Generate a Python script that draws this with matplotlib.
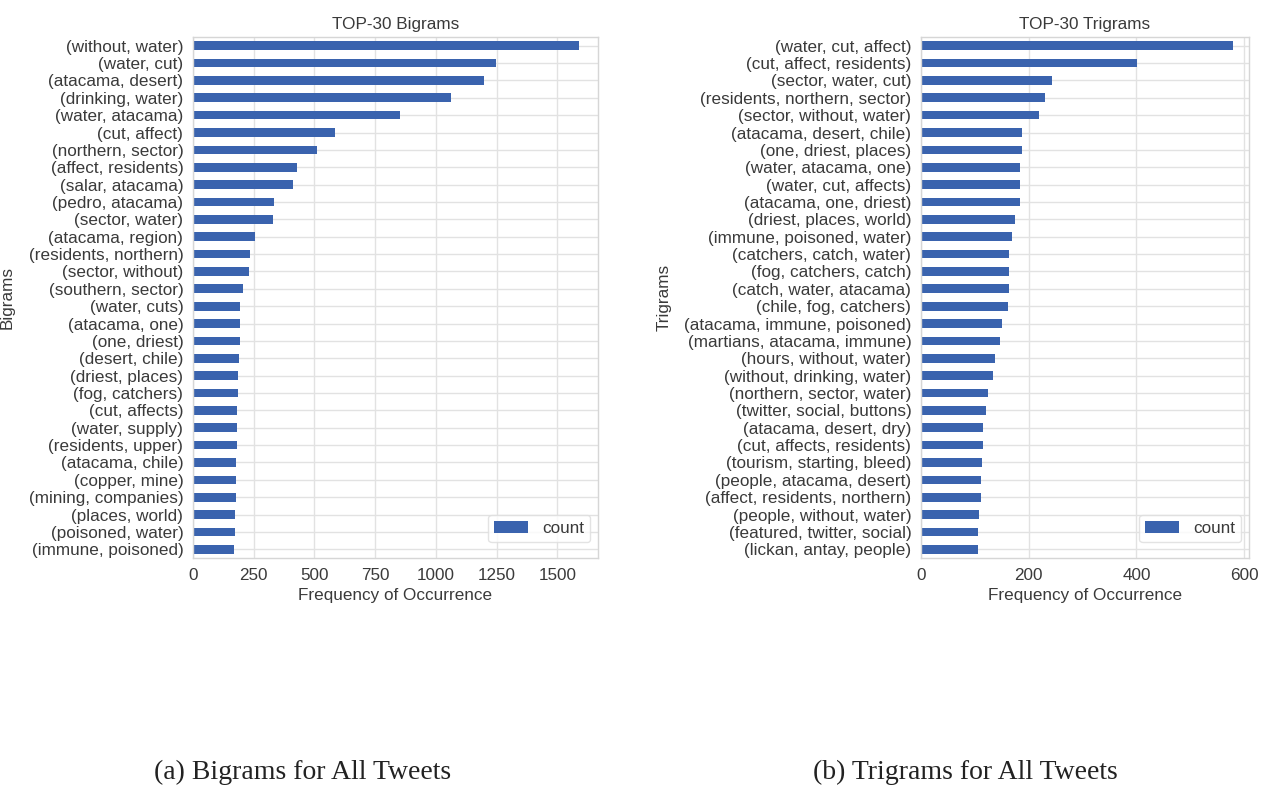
import matplotlib.pyplot as plt

# top-30 n-gram counts, listed from most to least frequent
bigram_labels = [
    "(without, water)", "(water, cut)", "(atacama, desert)", "(drinking, water)",
    "(water, atacama)", "(cut, affect)", "(northern, sector)", "(affect, residents)",
    "(salar, atacama)", "(pedro, atacama)", "(sector, water)", "(atacama, region)",
    "(residents, northern)", "(sector, without)", "(southern, sector)", "(water, cuts)",
    "(atacama, one)", "(one, driest)", "(desert, chile)", "(driest, places)",
    "(fog, catchers)", "(cut, affects)", "(water, supply)", "(residents, upper)",
    "(atacama, chile)", "(copper, mine)", "(mining, companies)", "(places, world)",
    "(poisoned, water)", "(immune, poisoned)",
]
bigram_counts = [
    1588, 1247, 1200, 1063, 853, 584, 512, 429, 413, 334,
    328, 256, 233, 232, 205, 194, 194, 193, 189, 186,
    186, 183, 183, 182, 176, 176, 175, 173, 172, 170,
]

trigram_labels = [
    "(water, cut, affect)", "(cut, affect, residents)", "(sector, water, cut)",
    "(residents, northern, sector)", "(sector, without, water)", "(atacama, desert, chile)",
    "(one, driest, places)", "(water, atacama, one)", "(water, cut, affects)",
    "(atacama, one, driest)", "(driest, places, world)", "(immune, poisoned, water)",
    "(catchers, catch, water)", "(fog, catchers, catch)", "(catch, water, atacama)",
    "(chile, fog, catchers)", "(atacama, immune, poisoned)", "(martians, atacama, immune)",
    "(hours, without, water)", "(without, drinking, water)", "(northern, sector, water)",
    "(twitter, social, buttons)", "(atacama, desert, dry)", "(cut, affects, residents)",
    "(tourism, starting, bleed)", "(people, atacama, desert)", "(affect, residents, northern)",
    "(people, without, water)", "(featured, twitter, social)", "(lickan, antay, people)",
]
trigram_counts = [
    580, 401, 244, 231, 220, 187, 187, 184, 183, 183,
    175, 169, 164, 164, 164, 161, 150, 147, 137, 134,
    124, 121, 116, 116, 113, 112, 112, 108, 106, 105,
]

bigram_ticks = [0, 250, 500, 750, 1000, 1250, 1500]
trigram_ticks = [0, 200, 400, 600]

bar_color = "#3a63ae"
text_color = "#3a3a3a"
plt.rcParams["font.family"] = ["Liberation Sans", "DejaVu Sans"]
plt.rcParams["font.size"] = 12.3
plt.rcParams["text.color"] = text_color
plt.rcParams["axes.labelcolor"] = text_color
plt.rcParams["xtick.color"] = text_color
plt.rcParams["ytick.color"] = text_color

fig = plt.figure(figsize=(12.66, 8.01), dpi=100)

W, H = 1266, 801
bottom = (H - 558) / H
height = (558 - 37) / H
ax1 = fig.add_axes([193 / W, bottom, (598 - 193) / W, height])
ax2 = fig.add_axes([921 / W, bottom, (1249 - 921) / W, height])


def draw_panel(ax, labels, counts, ticks, title, ylabel, ylabel_x, ax_w):
    pos = list(range(len(labels)))
    ax.barh(pos, counts, height=0.5, color=bar_color, label="count", zorder=2)
    ax.set_yticks(pos)
    ax.set_yticklabels(labels)
    ax.set_ylim(len(labels) - 0.5, -0.5)
    ax.set_xlim(0, max(counts) * 1.05)
    ax.set_xticks(ticks)
    ax.grid(True, color="#e2e2e2", linewidth=1.0, zorder=0)
    ax.set_axisbelow(True)
    for s in ax.spines.values():
        s.set_color("#d6d6d6")
        s.set_linewidth(1.0)
    ax.tick_params(length=0, pad=7)
    ax.set_title(title, fontsize=12.3, pad=6)
    ax.set_xlabel("Frequency of Occurrence", labelpad=4)
    ax.set_ylabel(ylabel)
    ax.yaxis.set_label_coords(ylabel_x, 0.5)
    leg = ax.legend(loc="lower right", bbox_to_anchor=(1 - 8 / ax_w, 16 / 521),
                    borderaxespad=0, frameon=True, fancybox=True,
                    handlelength=2.0, borderpad=0.35)
    leg.get_frame().set_edgecolor("#dddddd")


draw_panel(ax1, bigram_labels, bigram_counts, bigram_ticks,
           "TOP-30 Bigrams", "Bigrams", (15 - 193) / 405, 405)
draw_panel(ax2, trigram_labels, trigram_counts, trigram_ticks,
           "TOP-30 Trigrams", "Trigrams", (672 - 921) / 328, 328)

fig.text(303 / W, 1 - 772 / H, "(a) Bigrams for All Tweets", ha="center", va="center",
         family=["Liberation Serif", "DejaVu Serif"], fontsize=20, color="#222222")
fig.text(965 / W, 1 - 772 / H, "(b) Trigrams for All Tweets", ha="center", va="center",
         family=["Liberation Serif", "DejaVu Serif"], fontsize=20, color="#222222")

fig.savefig("out.png", dpi=100, facecolor="white")
